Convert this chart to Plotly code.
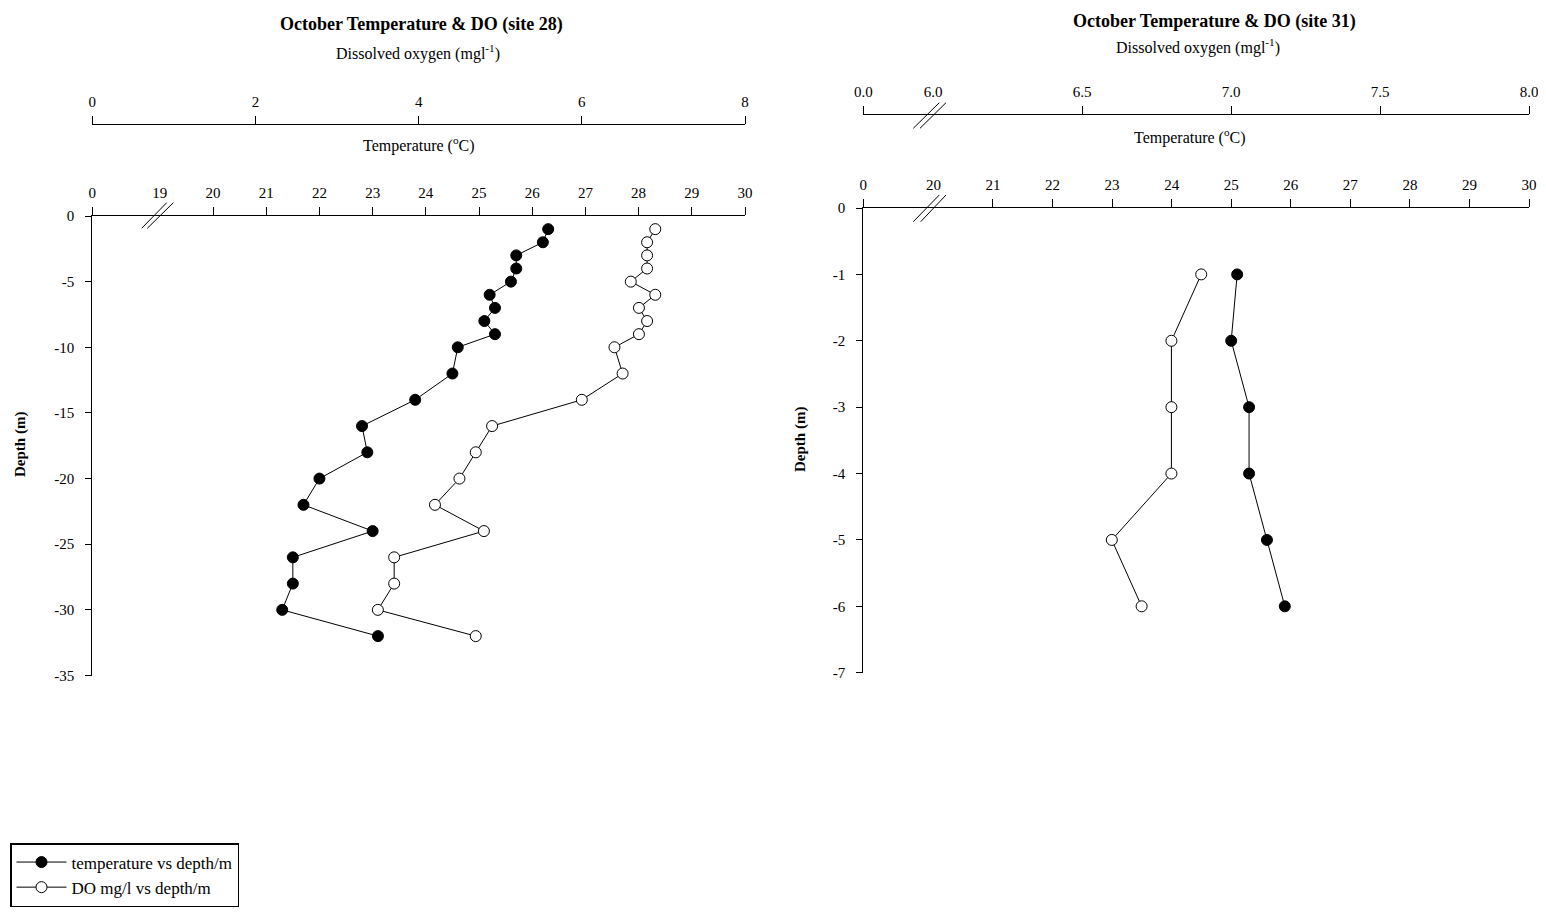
import plotly.graph_objects as go

W, H = 1546, 916
OFF = 8  # default page margin of the html body

# ---------------- data ----------------
depth_28 = [-1, -2, -3, -4, -5, -6, -7, -8, -9, -10, -12, -14, -16, -18, -20, -22, -24, -26, -28, -30, -32]
temp_28 = [26.3, 26.2, 25.7, 25.7, 25.6, 25.2, 25.3, 25.1, 25.3, 24.6, 24.5, 23.8, 22.8, 22.9, 22.0, 21.7,
           23.0, 21.5, 21.5, 21.3, 23.1]
do_28 = [6.9, 6.8, 6.8, 6.8, 6.6, 6.9, 6.7, 6.8, 6.7, 6.4, 6.5, 6.0, 4.9, 4.7, 4.5, 4.2, 4.8, 3.7, 3.7, 3.5, 4.7]

depth_31 = [-1, -2, -3, -4, -5, -6]
temp_31 = [25.1, 25.0, 25.3, 25.3, 25.6, 25.9]
do_31 = [6.9, 6.8, 6.8, 6.8, 6.6, 6.7]

# axis tick labels
temp28_ticks = [17.73, 19, 20, 21, 22, 23, 24, 25, 26, 27, 28, 29, 30]
temp28_text = ["0", "19", "20", "21", "22", "23", "24", "25", "26", "27", "28", "29", "30"]
do28_ticks = [0, 2, 4, 6, 8]
do28_text = ["0", "2", "4", "6", "8"]
depth28_ticks = [0, -5, -10, -15, -20, -25, -30, -35]
depth28_text = ["0", "-5", "-10", "-15", "-20", "-25", "-30", "-35"]

temp31_ticks = [18.823, 20, 21, 22, 23, 24, 25, 26, 27, 28, 29, 30]
temp31_text = ["0", "20", "21", "22", "23", "24", "25", "26", "27", "28", "29", "30"]
do31_ticks = [5.766, 6.0, 6.5, 7.0, 7.5, 8.0]
do31_text = ["0.0", "6.0", "6.5", "7.0", "7.5", "8.0"]
depth31_ticks = [0, -1, -2, -3, -4, -5, -6, -7]
depth31_text = ["0", "-1", "-2", "-3", "-4", "-5", "-6", "-7"]

names = ["temperature vs depth/m", "DO mg/l vs depth/m"]

FONT = "Liberation Serif"


def px(x):
    return (x - OFF) / W


def py(y):
    return 1 - (y - OFF) / H


fig = go.Figure()

filled = dict(size=11, color="black", line=dict(color="black", width=1))
hollow = dict(size=11, color="white", line=dict(color="black", width=1))
lstyle = dict(color="black", width=1)

fig.add_trace(go.Scatter(x=temp_28, y=depth_28, mode="lines+markers", marker=filled, line=lstyle,
                         name=names[0], xaxis="x", yaxis="y", showlegend=True))
fig.add_trace(go.Scatter(x=do_28, y=depth_28, mode="lines+markers", marker=hollow, line=lstyle,
                         name=names[1], xaxis="x2", yaxis="y", showlegend=True))
fig.add_trace(go.Scatter(x=temp_31, y=depth_31, mode="lines+markers", marker=filled, line=lstyle,
                         name=names[0], xaxis="x3", yaxis="y2", showlegend=False))
fig.add_trace(go.Scatter(x=do_31, y=depth_31, mode="lines+markers", marker=hollow, line=lstyle,
                         name=names[1], xaxis="x4", yaxis="y2", showlegend=False))

tickfont = dict(family=FONT, size=15, color="black")


def top_axis(rng, dom, vals, text, tickless, **kw):
    major = dict(
        range=rng, domain=dom, side="top", showline=True, linecolor="black", linewidth=1,
        tickmode="array", tickvals=vals, ticktext=text, ticks="outside", ticklen=8,
        tickcolor="rgba(0,0,0,0)", tickfont=tickfont, ticklabelstandoff=3,
        showgrid=False, zeroline=False, automargin=False, fixedrange=True,
        minor=dict(tickmode="array", tickvals=[v for v in vals if v not in tickless],
                   ticks="outside", ticklen=8, tickcolor="black", tickwidth=1, showgrid=False),
    )
    major.update(kw)
    return major


def depth_axis(rng, dom, anchor, vals, text):
    return dict(range=rng, domain=dom, anchor=anchor, showline=True, linecolor="black", linewidth=1,
                tickmode="array", tickvals=vals, ticktext=text, ticks="outside", ticklen=6,
                tickcolor="black", tickfont=tickfont, ticklabelstandoff=8, showgrid=False,
                zeroline=False, automargin=False, fixedrange=True)


left_dom = [px(92.3), px(745)]
right_dom = [px(863.3), px(1529)]

fig.update_layout(
    width=W, height=H,
    margin=dict(l=0, r=0, t=0, b=0),
    paper_bgcolor="white", plot_bgcolor="rgba(0,0,0,0)",
    font=dict(family=FONT, color="black"),
    xaxis=top_axis([17.73, 30], left_dom, temp28_ticks, temp28_text, [19], anchor="y"),
    xaxis2=top_axis([0, 8], left_dom, do28_ticks, do28_text, [],
                    anchor="free", overlaying="x", position=py(123.5)),
    xaxis3=top_axis([18.823, 30], right_dom, temp31_ticks, temp31_text, [20], anchor="y2"),
    xaxis4=top_axis([5.766, 8.0], right_dom, do31_ticks, do31_text, [6.0],
                    anchor="free", overlaying="x3", position=py(114)),
    yaxis=depth_axis([-35, 0], [py(675.5), py(216)], "x", depth28_ticks, depth28_text),
    yaxis2=depth_axis([-7, 0], [py(672.7), py(208)], "x3", depth31_ticks, depth31_text),
    legend=dict(x=px(10), y=py(843), xanchor="left", yanchor="top", bgcolor="white",
                bordercolor="black", borderwidth=1.5, font=dict(family=FONT, size=17, color="black"),
                itemwidth=50, tracegroupgap=0),
    showlegend=True,
)

# titles and axis labels
ann = [
    ("<b>October Temperature & DO (site 28)</b>", 421, 24, 18, 0),
    ("Dissolved oxygen (mgl<sup>-1</sup>)", 418, 53, 16, 0),
    ("Temperature (<sup>o</sup>C)", 419, 144, 16, 0),
    ("<b>October Temperature & DO (site 31)</b>", 1214, 21, 18, 0),
    ("Dissolved oxygen (mgl<sup>-1</sup>)", 1198, 46, 16, 0),
    ("Temperature (<sup>o</sup>C)", 1190, 136, 16, 0),
    ("<b>Depth (m)</b>", 20, 445, 15, -90),
    ("<b>Depth (m)</b>", 800, 440, 15, -90),
]
for text, x, y, size, ang in ann:
    fig.add_annotation(text=text, x=px(x), y=py(y), xref="paper", yref="paper", showarrow=False,
                       xanchor="center", yanchor="middle", textangle=ang,
                       font=dict(family=FONT, size=size, color="black"))

# axis break marks "//"
breaks = [
    ((141.7, 228.3), (166.7, 202.7)), ((147.3, 228.3), (173.3, 202.7)),
    ((913.3, 128.3), (939.3, 102.7)), ((920.0, 128.3), (946.0, 102.7)),
    ((913.3, 221.7), (939.3, 195.0)), ((920.7, 221.7), (946.0, 195.0)),
]
for (x0, y0), (x1, y1) in breaks:
    fig.add_shape(type="line", xref="paper", yref="paper", x0=px(x0), y0=py(y0), x1=px(x1), y1=py(y1),
                  line=dict(color="black", width=1))

fig.write_html("out.html")
